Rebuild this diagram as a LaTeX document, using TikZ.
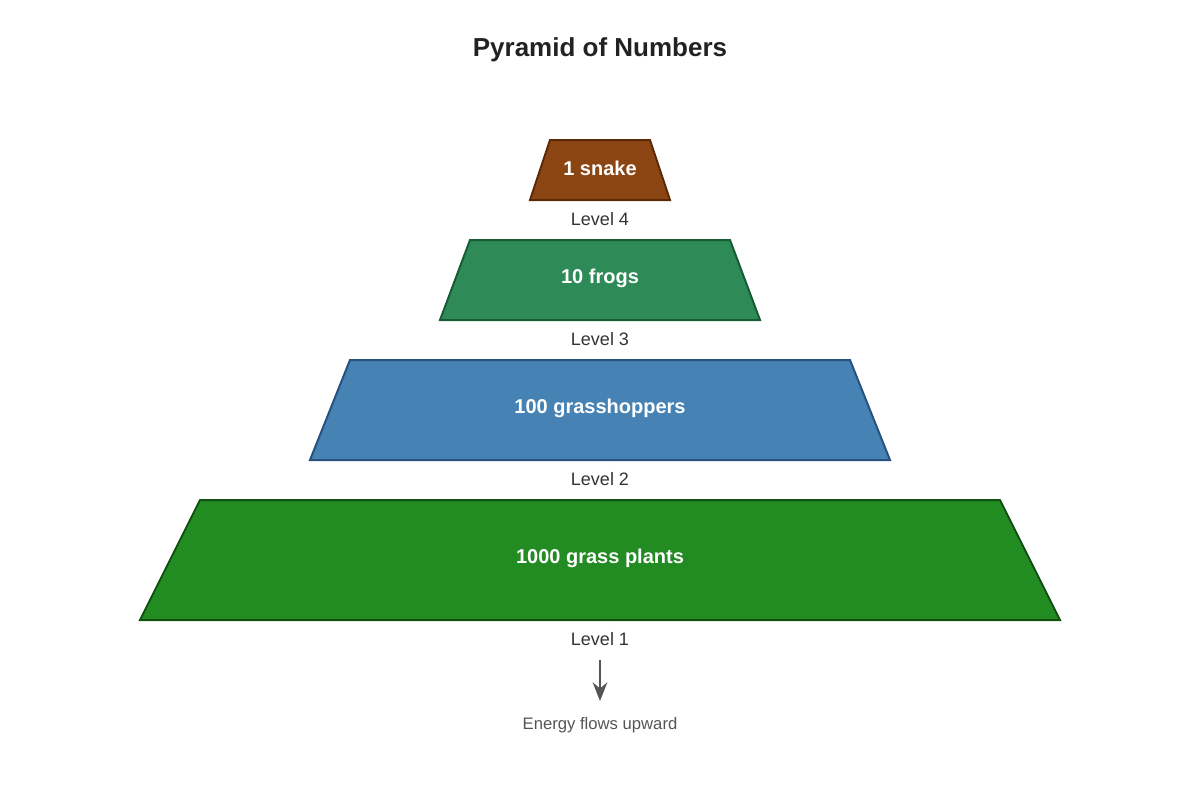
\documentclass[tikz,border=0pt]{standalone}
\usepackage{fontspec}
\setmainfont{Liberation Sans}
\usetikzlibrary{arrows.meta}
\definecolor{snakefill}{RGB}{139,69,19}
\definecolor{snakeline}{RGB}{92,42,8}
\definecolor{frogfill}{RGB}{46,139,87}
\definecolor{frogline}{RGB}{24,92,54}
\definecolor{hopfill}{RGB}{70,130,180}
\definecolor{hopline}{RGB}{40,82,128}
\definecolor{grassfill}{RGB}{34,139,34}
\definecolor{grassline}{RGB}{18,80,18}
\definecolor{labeltext}{RGB}{51,51,51}
\definecolor{flowgray}{RGB}{85,85,85}
\tikzset{
  tier/.style={line width=1.5pt},
  tiername/.style={text=white,font=\fontsize{15}{18}\selectfont\bfseries,inner sep=0.75pt},
  levelname/.style={text=labeltext,font=\fontsize{13.5}{16}\selectfont,inner sep=0.75pt},
}
\begin{document}
\begin{tikzpicture}[x=0.75pt,y=0.75pt,yscale=-1,xscale=1]
\useasboundingbox (0,0) rectangle (1200,800);

% Title
\node (title) [font=\fontsize{19.5}{23}\selectfont\bfseries,text={rgb,255:red,34;green,34;blue,34}] at (600,50) {Pyramid of Numbers};

% Level 4
\draw [tier,draw=snakeline,fill=snakefill] (550,140) -- (650,140) -- (670,200) -- (530,200) -- cycle;
\node (snake) [tiername] at (600,168) {1 snake};
\node (lvfour) [levelname] at (600,219) {Level 4};

% Level 3
\draw [tier,draw=frogline,fill=frogfill] (470,240) -- (730,240) -- (760,320) -- (440,320) -- cycle;
\node (frogs) [tiername] at (600,278) {10 frogs};
\node (lvthree) [levelname] at (600,339) {Level 3};

% Level 2
\draw [tier,draw=hopline,fill=hopfill] (350,360) -- (850,360) -- (890,460) -- (310,460) -- cycle;
\node (hoppers) [tiername] at (600,408) {100 grasshoppers};
\node (lvtwo) [levelname] at (600,479) {Level 2};

% Level 1
\draw [tier,draw=grassline,fill=grassfill] (200,500) -- (1000,500) -- (1060,620) -- (140,620) -- cycle;
\node (plants) [tiername] at (600,558) {1000 grass plants};
\node (lvone) [levelname] at (600,639) {Level 1};

% Energy arrow
\coordinate (flowtop) at (600,660);
\node (flow) [text=flowgray,font=\fontsize{12.5}{15}\selectfont,inner sep=0.75pt] at (600,725) {Energy flows upward};
\coordinate (flowend) at (600,701);
\draw [flowgray,line width=1.5pt,-{Stealth[length=14pt,width=11pt]}] (flowtop) -- (flowend);
\end{tikzpicture}
\end{document}
